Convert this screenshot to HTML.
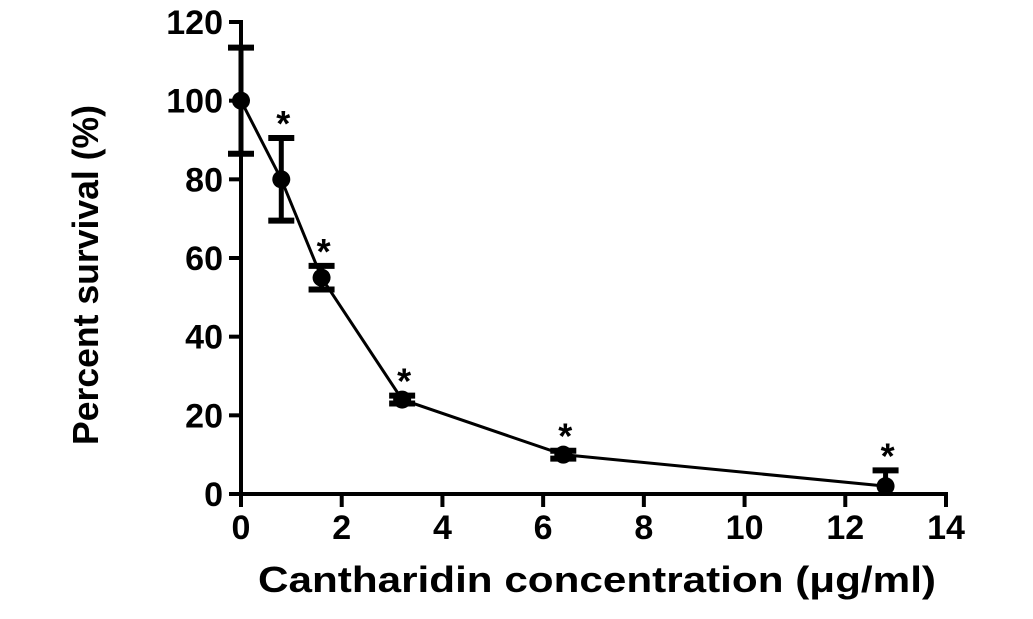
<!DOCTYPE html>
<html><head><meta charset="utf-8"><style>
html,body{margin:0;padding:0;background:#fff;}
svg text{font-family:"Liberation Sans",Arial,sans-serif;font-weight:bold;fill:#000;}
</style></head><body>
<svg id="chart" width="1033" height="614" viewBox="0 0 1033 614"></svg>
<script>
const xs=[0,0.8,1.6,3.2,6.4,12.8];
const ys=[100,80,55,24,10,2];
const errs=[13.5,10.5,3,1,1,4];
const sig=[false,true,true,true,true,true];
const xTicks=[0,2,4,6,8,10,12,14];
const yTicks=[0,20,40,60,80,100,120];
const svg=document.getElementById('chart');
const NS='http://www.w3.org/2000/svg';
const X0=241,X1=946,Y0=494,Y1=22;
const sx=v=>X0+(v/14)*(X1-X0);
const sy=v=>Y0-(v/120)*(Y0-Y1);
function mk(t,a){const e=document.createElementNS(NS,t);for(const k in a)e.setAttribute(k,a[k]);svg.appendChild(e);return e;}
let e=mk('line',{x1:X0,y1:Y1-2,x2:X0,y2:Y0+2,stroke:'#000','stroke-width':4});

e=mk('line',{x1:X0-2,y1:Y0,x2:X1+2,y2:Y0,stroke:'#000','stroke-width':4});

yTicks.forEach(v=>{
 const t=mk('line',{x1:X0-12,y1:sy(v),x2:X0,y2:sy(v),stroke:'#000','stroke-width':4});
 
 const l=mk('text',{x:X0-18,y:sy(v)+12,'text-anchor':'end','font-size':34});l.textContent=v;
 
});
xTicks.forEach(v=>{
 const t=mk('line',{x1:sx(v),y1:Y0,x2:sx(v),y2:Y0+13,stroke:'#000','stroke-width':4});
 
 const l=mk('text',{x:sx(v),y:Y0+45,'text-anchor':'middle','font-size':34});l.textContent=v;
 
});
e=mk('polyline',{points:xs.map((x,i)=>sx(x)+','+sy(ys[i])).join(' '),fill:'none',stroke:'#000','stroke-width':3});

xs.forEach((x,i)=>{
 const cx=sx(x),top=sy(ys[i]+errs[i]),bot=Math.min(sy(ys[i]-errs[i]),Y0);
 const g=mk('line',{x1:cx,y1:top,x2:cx,y2:bot,stroke:'#000','stroke-width':5});
 
 const c1=mk('line',{x1:cx-13,y1:top,x2:cx+13,y2:top,stroke:'#000','stroke-width':6});
 
 if(sy(ys[i]-errs[i])<Y0){const c2=mk('line',{x1:cx-13,y1:bot,x2:cx+13,y2:bot,stroke:'#000','stroke-width':6});
 }
 const p=mk('circle',{cx:cx,cy:sy(ys[i]),r:9,fill:'#000'});
 
 if(sig[i]){const s=mk('text',{x:cx+2,y:top-2,'text-anchor':'middle','font-size':36});s.textContent='*';
 }
});
e=mk('text',{x:258,y:592,'font-size':36,textLength:678,lengthAdjust:'spacingAndGlyphs'});e.textContent='Cantharidin concentration  (μg/ml)';
e.setAttribute('xml:space','preserve');

e=mk('text',{x:0,y:0,'font-size':36,textLength:340,lengthAdjust:'spacingAndGlyphs',transform:'translate(98,445) rotate(-90)'});e.textContent='Percent survival (%)';

</script>
</body></html>
